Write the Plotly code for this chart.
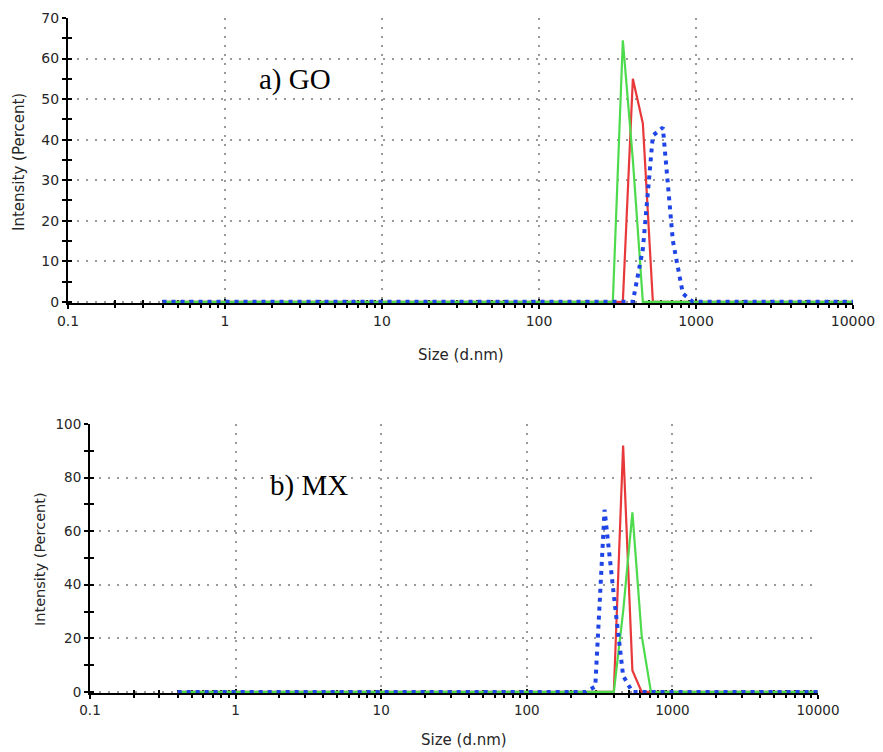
import plotly.graph_objects as go

# ---------------- data ----------------
# DLS size bins (nm) used by the curves
SIZE_BINS = [0.4, 255.0, 295.3, 342.0, 396.1, 458.7, 531.2, 615.1, 712.4, 825.0, 955.4, 10000.0]

# a) GO  intensity (%)
GO_GREEN = [0, 0, 0, 64.5, 35, 0, 0, 0, 0, 0, 0, 0]
GO_RED   = [0, 0, 0, 0, 55, 44, 0, 0, 0, 0, 0, 0]
GO_BLUE  = [0, 0, 0, 0, 0, 13, 41, 43, 15, 2, 0, 0]

# b) MX  intensity (%)
MX_GREEN = [0, 0, 0, 0, 0, 30, 67, 21, 0, 0, 0, 0]
MX_RED   = [0, 0, 0, 0, 0, 92, 8, 0, 0, 0, 0, 0]
MX_BLUE  = [0, 0, 2, 68, 36, 6, 0, 0, 0, 0, 0, 0]

X_TICKS = [0.1, 1, 10, 100, 1000, 10000]
X_TICKTEXT = ["0.1", "1", "10", "100", "1000", "10000"]
X_MINOR = [m * 10 ** e for e in range(-1, 4) for m in range(2, 10)]

GO_YTICKS = [0, 10, 20, 30, 40, 50, 60, 70]
GO_YMINOR = [5, 15, 25, 35, 45, 55, 65]
MX_YTICKS = [0, 20, 40, 60, 80, 100]
MX_YMINOR = [10, 30, 50, 70, 90]

GREEN = "#4ddb4d"
RED = "#e8383a"
BLUE = "#1f45e6"

W, H = 883, 752
FONT = "DejaVu Sans, Liberation Sans, sans-serif"
TXT = "#262626"

fig = go.Figure()

def add_curves(xa, ya, g, r, b):
    fig.add_trace(go.Scatter(x=SIZE_BINS, y=r, mode="lines", xaxis=xa, yaxis=ya,
                             line=dict(color=RED, width=2.2), showlegend=False))
    fig.add_trace(go.Scatter(x=SIZE_BINS, y=g, mode="lines", xaxis=xa, yaxis=ya,
                             line=dict(color=GREEN, width=2.2), showlegend=False))
    fig.add_trace(go.Scatter(x=SIZE_BINS, y=b, mode="lines", xaxis=xa, yaxis=ya,
                             line=dict(color=BLUE, width=4, dash="4px,5px"), showlegend=False))

add_curves("x", "y", GO_GREEN, GO_RED, GO_BLUE)
add_curves("x2", "y2", MX_GREEN, MX_RED, MX_BLUE)

# paper-domain helpers
def xd(a, b):
    return [a / W, b / W]

def yd(top, bottom):
    return [1 - bottom / H, 1 - top / H]

grid = dict(showgrid=True, gridcolor="#9a9a9a", gridwidth=1.6, griddash="2px,7px")

def xaxis_common(dom, anchor, tfs):
    return dict(domain=dom, anchor=anchor, type="log", range=[-1, 4], automargin=False,
                showline=True, linecolor="black", linewidth=2,
                tickmode="array", tickvals=X_TICKS, ticktext=X_TICKTEXT,
                ticks="outside", ticklen=4, tickwidth=2, tickcolor="black",
                tickfont=dict(family=FONT, size=tfs, color=TXT),
                minor=dict(tickvals=X_MINOR, ticks="outside", ticklen=3,
                           tickwidth=2, tickcolor="black", showgrid=False),
                zeroline=False, layer="below traces", **grid)

def yaxis_common(dom, anchor, rng, tv, mv, tfs):
    return dict(domain=dom, anchor=anchor, range=rng, automargin=False,
                showline=True, linecolor="black", linewidth=2,
                tickmode="array", tickvals=tv,
                ticks="outside", ticklen=4, tickwidth=2, tickcolor="black",
                tickfont=dict(family=FONT, size=tfs, color=TXT),
                minor=dict(tickvals=mv, ticks="outside", ticklen=4,
                           tickwidth=2, tickcolor="black", showgrid=False),
                zeroline=False, layer="below traces", **grid)

def overlay_x(base, anchor):
    return dict(overlaying=base, anchor=anchor, type="log", range=[-1, 4], automargin=False,
                showline=False, showgrid=False, zeroline=False, showticklabels=False,
                tickmode="array", tickvals=X_TICKS,
                ticks="inside", ticklen=4, tickwidth=2, tickcolor="black",
                minor=dict(tickvals=X_MINOR, ticks="inside", ticklen=3,
                           tickwidth=2, tickcolor="black", showgrid=False),
                layer="below traces")

def overlay_y(base, anchor, rng, tv, mv):
    return dict(overlaying=base, anchor=anchor, range=rng, automargin=False,
                showline=False, showgrid=False, zeroline=False, showticklabels=False,
                tickmode="array", tickvals=tv,
                ticks="inside", ticklen=4, tickwidth=2, tickcolor="black",
                minor=dict(tickvals=mv, ticks="inside", ticklen=4,
                           tickwidth=2, tickcolor="black", showgrid=False),
                layer="below traces")

top_x = xd(68, 853)
top_y = yd(18, 303)
bot_x = xd(90, 818)
bot_y = yd(424, 693)

GO_RANGE = [-0.3, 70]
MX_RANGE = [-0.4, 100]

# invisible traces to anchor overlay axes
fig.add_trace(go.Scatter(x=[1], y=[0], xaxis="x3", yaxis="y3", mode="markers",
                         marker=dict(opacity=0), showlegend=False, hoverinfo="skip"))
fig.add_trace(go.Scatter(x=[1], y=[0], xaxis="x4", yaxis="y4", mode="markers",
                         marker=dict(opacity=0), showlegend=False, hoverinfo="skip"))

fig.update_layout(
    width=W, height=H,
    margin=dict(l=0, r=0, t=0, b=0, autoexpand=False),
    paper_bgcolor="white", plot_bgcolor="white",
    showlegend=False,
    xaxis=xaxis_common(top_x, "y", 14),
    yaxis=yaxis_common(top_y, "x", GO_RANGE, GO_YTICKS, GO_YMINOR, 14),
    xaxis2=xaxis_common(bot_x, "y2", 13.5),
    yaxis2=yaxis_common(bot_y, "x2", MX_RANGE, MX_YTICKS, MX_YMINOR, 13.5),
    xaxis3=overlay_x("x", "y3"),
    yaxis3=overlay_y("y", "x3", GO_RANGE, GO_YTICKS, GO_YMINOR),
    xaxis4=overlay_x("x2", "y4"),
    yaxis4=overlay_y("y2", "x4", MX_RANGE, MX_YTICKS, MX_YMINOR),
)

ann_font = dict(family=FONT, size=15, color=TXT)
serif = dict(family="Liberation Serif, Times New Roman, serif", size=29, color="black")

def note(x, y, text, font, angle=0):
    fig.add_annotation(x=x / W, y=1 - y / H, xref="paper", yref="paper",
                       xanchor="center", yanchor="middle", text=text,
                       textangle=angle, showarrow=False, font=font)

note(461, 355, "Size (d.nm)", ann_font)
note(464, 740, "Size (d.nm)", ann_font)
note(19, 162, "Intensity (Percent)", ann_font, -90)
note(40, 559, "Intensity (Percent)", dict(family=FONT, size=14.5, color=TXT), -90)
note(295, 79, "a) GO", serif)
note(309, 485, "b) MX", serif)

fig.write_html("out.html")
